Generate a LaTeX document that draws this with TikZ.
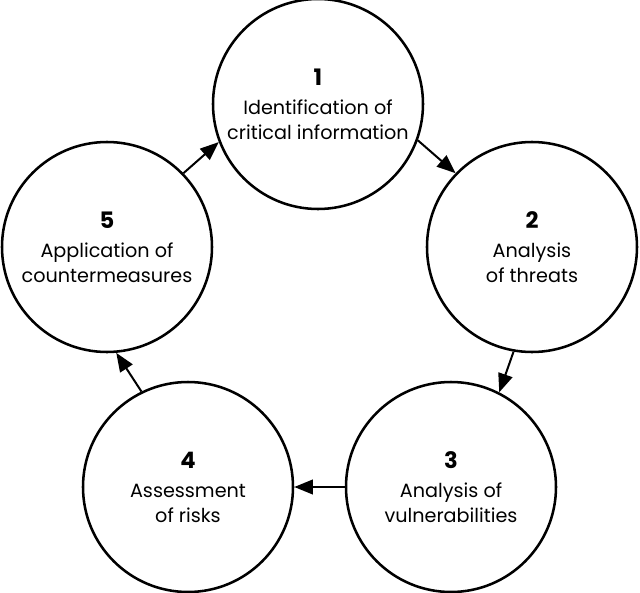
\documentclass[tikz,border=0pt]{standalone}
\usepackage{fontspec}
\setmainfont{Poppins}
\usetikzlibrary{arrows.meta}
\begin{document}
\begin{tikzpicture}[x=0.75pt,y=-0.75pt,
  stage/.style={circle,draw,line width=1.9pt,minimum size=157.5pt,inner sep=0pt,align=center,
    font=\fontsize{14.4}{18.75}\selectfont},
  num/.style={},
  flow/.style={line width=1.5pt,-{Triangle[length=14pt,width=11pt]}}]
\newcommand{\stagenum}[1]{{\fontsize{17}{18.75}\selectfont\textbf{#1}}}
\useasboundingbox (0,0) rectangle (640,593);
\node[stage] (s1) at (318,104) {\stagenum{1}\\[3pt]Identification of\\critical information};
\node[stage] (s2) at (532,247) {\stagenum{2}\\[3pt]Analysis\\of threats};
\node[stage] (s3) at (451,487) {\stagenum{3}\\[3pt]Analysis of\\vulnerabilities};
\node[stage] (s4) at (188,487) {\stagenum{4}\\[3pt]Assessment\\of risks};
\node[stage] (s5) at (107,247) {\stagenum{5}\\[3pt]Application of\\countermeasures};
\draw[flow] (s5.44) -- (s1.201);
\draw[flow] (s1.340) -- (s2.136);
\draw[flow] (s2.260) -- (s3.63);
\draw[flow] (s3.180) -- (s4.0);
\draw[flow] (s4.116) -- (s5.275);
\end{tikzpicture}
\end{document}
